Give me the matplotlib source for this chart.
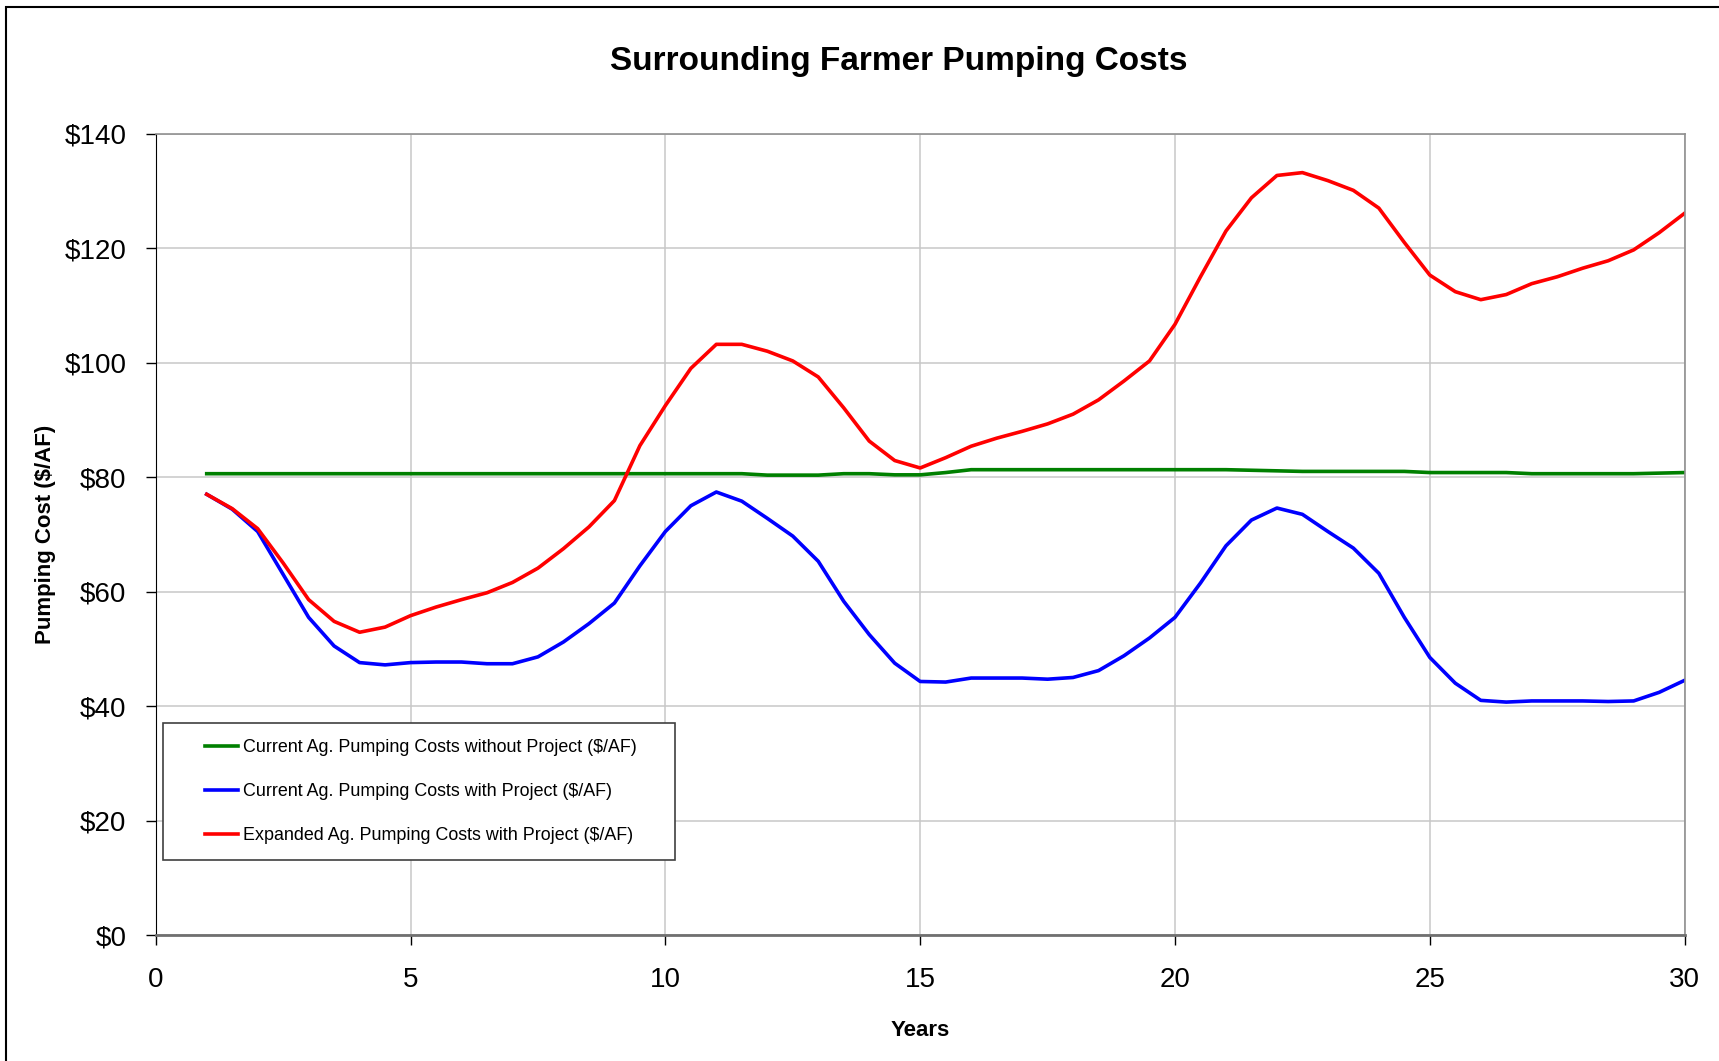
import numpy as np
import matplotlib
matplotlib.use("Agg")
import matplotlib.pyplot as plt
from matplotlib.patches import Rectangle
from matplotlib.ticker import FuncFormatter, MultipleLocator

plt.rcParams['font.family'] = ['Liberation Sans', 'DejaVu Sans']

# years, half-year steps
years = np.arange(1.0, 30.01, 0.5)

current_without = [80.6, 80.6, 80.6, 80.6, 80.6, 80.6, 80.6, 80.6, 80.6, 80.6,
                   80.6, 80.6, 80.6, 80.6, 80.6, 80.6, 80.6, 80.6, 80.6, 80.6,
                   80.6, 80.6, 80.35, 80.35, 80.35, 80.6, 80.6, 80.4, 80.4, 80.8,
                   81.3, 81.3, 81.3, 81.3, 81.3, 81.3, 81.3, 81.3, 81.3, 81.3,
                   81.3, 81.2, 81.1, 81.0, 81.0, 81.0, 81.0, 81.0, 80.8, 80.8,
                   80.8, 80.8, 80.6, 80.6, 80.6, 80.6, 80.6, 80.7, 80.8]

current_with = [77.0, 74.4, 70.5, 63.0, 55.5, 50.5, 47.6, 47.2, 47.6, 47.7,
                47.7, 47.4, 47.4, 48.6, 51.2, 54.4, 58.0, 64.5, 70.5, 75.0,
                77.4, 75.8, 72.8, 69.7, 65.3, 58.3, 52.5, 47.5, 44.3, 44.2,
                44.9, 44.9, 44.9, 44.7, 45.0, 46.2, 48.8, 51.9, 55.5, 61.5,
                68.0, 72.5, 74.6, 73.5, 70.5, 67.6, 63.2, 55.5, 48.5, 44.0,
                41.0, 40.7, 40.9, 40.9, 40.9, 40.8, 40.9, 42.4, 44.5]

expanded_with = [77.0, 74.5, 71.0, 65.0, 58.6, 54.8, 52.9, 53.8, 55.8, 57.3,
                 58.6, 59.8, 61.6, 64.1, 67.5, 71.3, 75.9, 85.5, 92.5, 99.0,
                 103.2, 103.2, 102.0, 100.3, 97.5, 92.1, 86.3, 82.9, 81.6, 83.4,
                 85.4, 86.8, 88.0, 89.3, 91.0, 93.5, 96.8, 100.3, 106.7, 115.0,
                 123.0, 128.8, 132.7, 133.2, 131.8, 130.1, 127.0, 121.0, 115.3, 112.4,
                 111.0, 111.9, 113.8, 115.0, 116.5, 117.8, 119.7, 122.7, 126.1]

labels = ["Current Ag. Pumping Costs without Project ($/AF)",
          "Current Ag. Pumping Costs with Project ($/AF)",
          "Expanded Ag. Pumping Costs with Project ($/AF)"]

fig = plt.figure(figsize=(17.19, 10.61), dpi=100)
ax = fig.add_axes([0.0906, 0.1187, 0.8894, 0.7553])

ax.plot(years, current_without, color='#008000', lw=2.6, label=labels[0])
ax.plot(years, current_with, color='#0000ff', lw=2.6, label=labels[1])
ax.plot(years, expanded_with, color='#ff0000', lw=2.6, label=labels[2])

ax.set_xlim(0, 30)
ax.set_ylim(0, 140)
ax.xaxis.set_major_locator(MultipleLocator(5))
ax.yaxis.set_major_locator(MultipleLocator(20))
ax.yaxis.set_major_formatter(FuncFormatter(lambda v, p: "${:.0f}".format(v)))
ax.grid(True, color='#c8c8c8', lw=1.1)
ax.set_axisbelow(True)
ax.tick_params(labelsize=20, length=7, width=1, direction='out')
ax.tick_params(axis='y', pad=14)
ax.tick_params(axis='x', pad=16)
for s in ['top', 'right']:
    ax.spines[s].set_color('#909090')
    ax.spines[s].set_linewidth(1.2)
ax.spines['left'].set_color('black')
ax.spines['bottom'].set_color('#707070')
ax.spines['bottom'].set_linewidth(2)

ax.set_ylabel("Pumping Cost ($/AF)", fontsize=16, fontweight='bold')
ax.yaxis.set_label_coords(-0.065, 0.5)
ax.set_xlabel("Years", fontsize=16, fontweight='bold')
ax.xaxis.set_label_coords(0.5, -0.106)

fig.text(0.523, 0.942, "Surrounding Farmer Pumping Costs", fontsize=24,
         fontweight='bold', ha='center', va='center')

# legend box
ax.add_patch(Rectangle((0.0048, 0.0942), 0.3348, 0.1698, transform=ax.transAxes,
                       facecolor='white', edgecolor='#404040', lw=1.2, zorder=5))
leg = ax.legend(loc='center', bbox_to_anchor=(0.1735, 0.1791), frameon=False,
                fontsize=12.9, handlelength=1.8, handletextpad=0.3,
                labelspacing=1.5)
leg.set_zorder(6)

# outer frame
fig.add_artist(Rectangle((6 / 1719, -0.05), 1.2, 1.05 - 7 / 1061,
                         transform=fig.transFigure, fill=False,
                         edgecolor='black', lw=1.5))

fig.savefig("out.png", dpi=100)
